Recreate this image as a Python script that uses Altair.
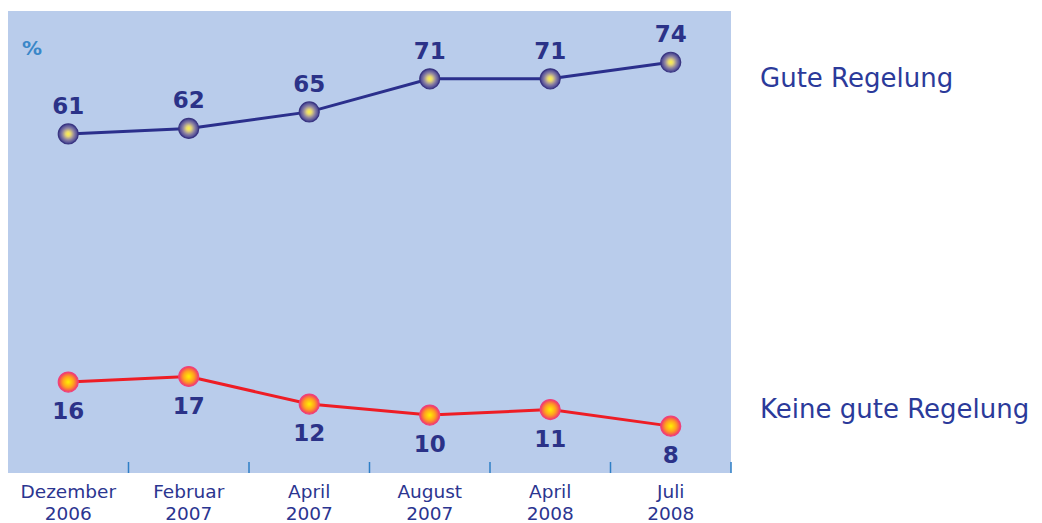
import altair as alt
import pandas as pd

dates = ["Dezember|2006", "Februar|2007", "April|2007", "August|2007", "April|2008", "Juli|2008"]
gute = [61, 62, 65, 71, 71, 74]
keine = [16, 17, 12, 10, 11, 8]
series_names = ["Gute Regelung", "Keine gute Regelung"]

df_g = pd.DataFrame({"date": dates, "value": gute})
df_k = pd.DataFrame({"date": dates, "value": keine})
df_ticks = pd.DataFrame({"date": dates})

W, H = 723, 462
xs = alt.Scale(type="band", domain=dates, paddingInner=0, paddingOuter=0)
ys = alt.Scale(domain=[-0.5, 83.3], nice=False, zero=False)

xaxis = alt.Axis(title=None, ticks=False, domain=False, labelAngle=0,
                 labelExpr="split(datum.label, '|')", labelFontSize=18.5,
                 labelColor="#2b3590", labelFont="DejaVu Sans",
                 labelLineHeight=22, labelPadding=9, labelBaseline="top")
xenc = alt.X("date:N", scale=xs, sort=dates, axis=xaxis)
yenc = alt.Y("value:Q", scale=ys, axis=None)

navy = "#2b2f8c"
red = "#ee1d25"
lab = "#2b3288"

grad_navy = alt.Gradient(gradient="radial", x1=0.5, y1=0.5, x2=0.5, y2=0.5, r1=0, r2=0.5,
                         stops=[alt.GradientStop(color="#fff544", offset=0),
                                alt.GradientStop(color="#e6d676", offset=0.25),
                                alt.GradientStop(color="#8c82a2", offset=0.6),
                                alt.GradientStop(color="#3c3a90", offset=1)])
grad_red = alt.Gradient(gradient="radial", x1=0.5, y1=0.5, x2=0.5, y2=0.5, r1=0, r2=0.5,
                        stops=[alt.GradientStop(color="#fff200", offset=0),
                               alt.GradientStop(color="#ffa020", offset=0.55),
                               alt.GradientStop(color="#f2356a", offset=1)])

base_g = alt.Chart(df_g)
base_k = alt.Chart(df_k)

line_g = base_g.mark_line(color=navy, strokeWidth=3).encode(x=xenc, y=yenc)
line_k = base_k.mark_line(color=red, strokeWidth=3).encode(x=xenc, y=yenc)
pt_g = base_g.mark_point(filled=True, size=400, fill=grad_navy, opacity=1,
                         stroke="#3a3580", strokeWidth=1.2).encode(x=xenc, y=yenc)
pt_k = base_k.mark_point(filled=True, size=400, fill=grad_red, opacity=1,
                         stroke="#f0407a", strokeWidth=1.2).encode(x=xenc, y=yenc)
txt_g = base_g.mark_text(dy=-27, fontSize=23, fontWeight="bold", color=lab,
                         font="DejaVu Sans").encode(x=xenc, y=yenc, text="value:Q")
txt_k = base_k.mark_text(dy=30, fontSize=23, fontWeight="bold", color=lab,
                         font="DejaVu Sans").encode(x=xenc, y=yenc, text="value:Q")

ticks = alt.Chart(df_ticks).mark_rule(color="#2f7fc6", strokeWidth=1.5).encode(
    x=alt.X("date:N", scale=xs, sort=dates, bandPosition=1, axis=xaxis),
    y=alt.value(H - 11), y2=alt.value(H))

pct = alt.Chart(pd.DataFrame({"t": ["%"]})).mark_text(
    fontSize=20, fontWeight="bold", color="#3a87c8", font="DejaVu Sans", align="left"
).encode(x=alt.value(14), y=alt.value(38), text="t:N")

right_labels = alt.Chart(pd.DataFrame({"t": series_names, "v": [gute[-1] - 3, keine[-1] + 3]})).mark_text(
    fontSize=26, color="#2b3a9a", font="DejaVu Sans", align="left", baseline="middle"
).encode(x=alt.value(752), y=alt.Y("v:Q", scale=ys, axis=None), text="t:N")

chart = alt.layer(line_g, line_k, ticks, pt_g, pt_k, txt_g, txt_k, pct, right_labels).properties(
    width=W, height=H,
    background="white",
    autosize=alt.AutoSizeParams(type="none"),
    padding={"left": 0, "top": 3, "right": 300, "bottom": 50},
).configure_view(fill="#b9cceb", stroke=None)

chart.save("out.html", embed_options={"renderer": "svg", "actions": False})
